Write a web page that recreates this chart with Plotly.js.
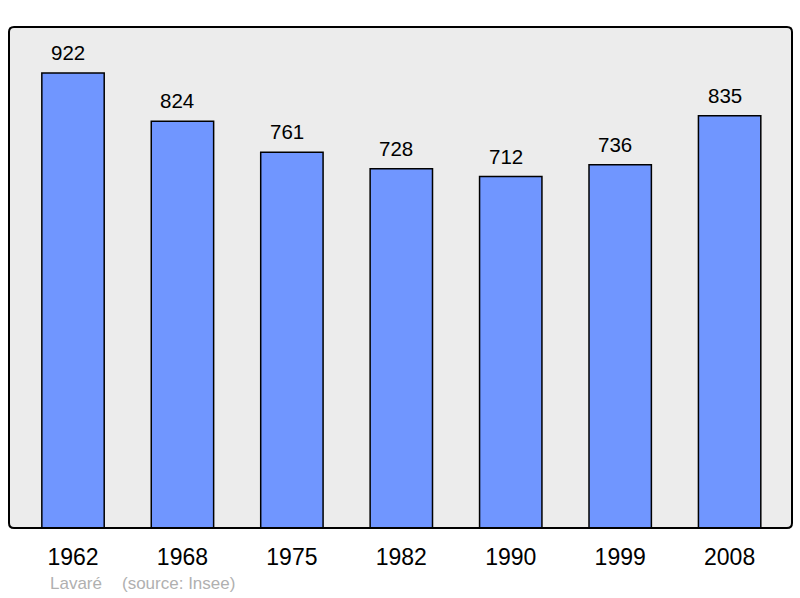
<!DOCTYPE html>
<html>
<head>
<meta charset="utf-8">
<script src="https://cdn.plot.ly/plotly-3.0.1.min.js"></script>
<style>
  body { margin: 0; background: #fff; }
  #chart { width: 800px; height: 598px; }
</style>
</head>
<body>
<div id="chart"></div>
<script>
// population by census year
const years = ["1962", "1968", "1975", "1982", "1990", "1999", "2008"];
const population = [922, 824, 761, 728, 712, 736, 835];
const town = "Lavaré";
const source = "(source: Insee)";

const xs = years.map((y, i) => i);
const font = 'Liberation Sans, Arial, sans-serif';

const bars = {
    x: xs,
    y: population,
    type: 'bar',
    width: 0.57,
    marker: { color: '#7096ff', line: { color: '#000', width: 1.5 } },
    hoverinfo: 'none'
};

// value labels above each bar (sit a bit left of centre in the original)
let notes = population.map((v, i) => ({
    x: i, y: v, xref: 'x', yref: 'y',
    text: String(v), showarrow: false,
    yanchor: 'bottom', yshift: 7, xshift: -5,
    font: { family: font, size: 20.5, color: '#000' }
}));

notes.push({
    x: 39 / 783, y: 0, xref: 'paper', yref: 'paper', xanchor: 'left', yanchor: 'middle',
    yshift: -55, text: town, showarrow: false,
    font: { family: font, size: 17, color: '#b0b0b0' }
});
notes.push({
    x: 111 / 783, y: 0, xref: 'paper', yref: 'paper', xanchor: 'left', yanchor: 'middle',
    yshift: -55, text: source, showarrow: false,
    font: { family: font, size: 17, color: '#b0b0b0' }
});

// frame with slightly rounded corners (paper units, plot is 783 x 501 px)
const rx = 5 / 783, ry = 5 / 501;
const frame = `M ${rx},0 L ${1 - rx},0 Q 1,0 1,${ry} L 1,${1 - ry} Q 1,1 ${1 - rx},1 ` +
    `L ${rx},1 Q 0,1 0,${1 - ry} L 0,${ry} Q 0,0 ${rx},0 Z`;

const layout = {
    width: 800, height: 598,
    margin: { l: 9, r: 8, t: 27, b: 70 },
    paper_bgcolor: '#fff',
    plot_bgcolor: '#ececec',
    showlegend: false,
    xaxis: {
        range: [-0.585, 6.57],
        tickvals: xs, ticktext: years,
        ticks: 'outside', ticklen: 8, tickcolor: 'rgba(0,0,0,0)',
        tickfont: { family: font, size: 23, color: '#000' },
        showgrid: false, zeroline: false, showline: false, fixedrange: true
    },
    yaxis: {
        range: [0, 1015],
        showticklabels: false, showgrid: false, zeroline: false, showline: false, fixedrange: true
    },
    shapes: [{
        type: 'path', xref: 'paper', yref: 'paper', path: frame,
        line: { color: '#000', width: 2 }, layer: 'above'
    }],
    annotations: notes
};

Plotly.newPlot('chart', [bars], layout, { staticPlot: true });
</script>
</body>
</html>
